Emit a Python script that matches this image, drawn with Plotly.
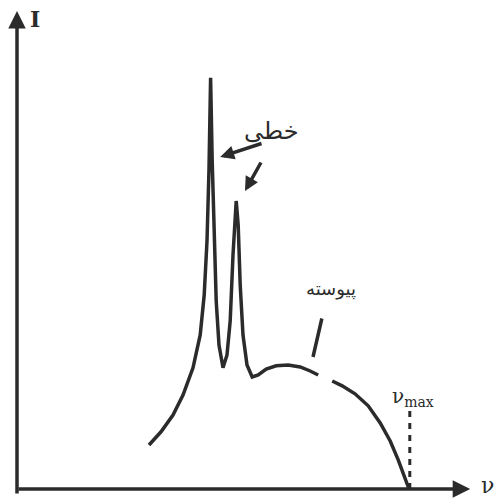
import plotly.graph_objects as go

# Spectrum: frequency (arbitrary units) vs intensity (arbitrary units)
nu = [3.3, 3.6, 3.9, 4.15, 4.4, 4.58, 4.68, 4.75, 4.8, 4.84, 4.88, 4.93, 4.98, 5.05, 5.15,
      5.25, 5.33, 5.4, 5.48, 5.53, 5.58, 5.65, 5.75, 5.88, 6.03, 6.23, 6.48, 6.78, 7.08,
      7.33, 7.53, None, 7.88, 8.13, 8.45, 8.78, 9.08, 9.33, 9.53, 9.7, 9.8]
intensity = [1.1, 1.43, 1.85, 2.35, 3.03, 3.85, 4.85, 6.2, 8.0, 10.28, 8.2, 6.2, 4.7, 3.6, 3.03,
             3.35, 4.2, 5.85, 7.2, 6.6, 5.1, 3.85, 3.1, 2.8, 2.85, 3.0, 3.08, 3.1, 3.05,
             2.95, 2.85, None, 2.7, 2.58, 2.38, 2.08, 1.65, 1.2, 0.73, 0.28, 0.0]
nu_max = 9.82

axis_label_y = "I"
axis_label_x = "ν"
label_lines = "خطی"
label_continuous = "پیوسته"
label_numax = "ν<sub>max</sub>"

ink = "#2b2b2b"
fig = go.Figure()
fig.add_trace(go.Scatter(x=nu, y=intensity, mode="lines", connectgaps=False,
                         line=dict(color=ink, width=3.5), hoverinfo="skip"))
# nu_max dashed marker
fig.add_trace(go.Scatter(x=[nu_max, nu_max], y=[0, 1.95], mode="lines",
                         line=dict(color=ink, width=3, dash="6px,6px"), hoverinfo="skip"))

font = dict(family="DejaVu Serif", color=ink)
ann = []
# axes as arrows
ann.append(dict(x=11.33, y=0, ax=0, ay=0, xref="x", yref="y", axref="x", ayref="y",
                showarrow=True, arrowhead=2, arrowsize=1, arrowwidth=3.5, arrowcolor=ink, text=""))
ann.append(dict(x=0, y=11.95, ax=0, ay=-0.15, xref="x", yref="y", axref="x", ayref="y",
                showarrow=True, arrowhead=2, arrowsize=1, arrowwidth=3.5, arrowcolor=ink, text=""))
ann.append(dict(x=0.45, y=11.75, text="<b>" + axis_label_y + "</b>", showarrow=False,
                font=dict(size=22, **font)))
ann.append(dict(x=11.75, y=0.1, text=axis_label_x, showarrow=False, font=dict(size=22, **font)))
ann.append(dict(x=9.9, y=2.3, text=label_numax, showarrow=False, font=dict(size=20, **font)))
# line-spectrum label and arrows
ann.append(dict(x=6.35, y=8.95, text=label_lines, showarrow=False,
                font=dict(size=24, family="DejaVu Sans", color=ink)))
ann.append(dict(x=5.08, y=8.3, ax=6.15, ay=8.65, xref="x", yref="y", axref="x", ayref="y",
                showarrow=True, arrowhead=2, arrowsize=0.8, arrowwidth=3.5, arrowcolor=ink, text=""))
ann.append(dict(x=5.7, y=7.45, ax=6.12, ay=8.2, xref="x", yref="y", axref="x", ayref="y",
                showarrow=True, arrowhead=2, arrowsize=0.8, arrowwidth=3.5, arrowcolor=ink, text=""))
# continuous label and pointer
ann.append(dict(x=7.85, y=5.0, text=label_continuous, showarrow=False,
                font=dict(size=18, family="DejaVu Sans", color=ink)))
ann.append(dict(x=7.4, y=3.3, ax=7.63, ay=4.3, xref="x", yref="y", axref="x", ayref="y",
                showarrow=True, arrowhead=0, arrowwidth=3.5, arrowcolor=ink, text=""))

fig.update_layout(
    width=501, height=499, margin=dict(l=0, r=0, t=0, b=0),
    paper_bgcolor="white", plot_bgcolor="white", showlegend=False,
    xaxis=dict(range=[-0.425, 12.1], visible=False, fixedrange=True),
    yaxis=dict(range=[-0.25, 12.225], visible=False, fixedrange=True),
    annotations=ann,
)
fig.write_html("out.html", config={"displayModeBar": False},
               post_script="document.body.style.margin='0';document.body.style.overflow='hidden';")
